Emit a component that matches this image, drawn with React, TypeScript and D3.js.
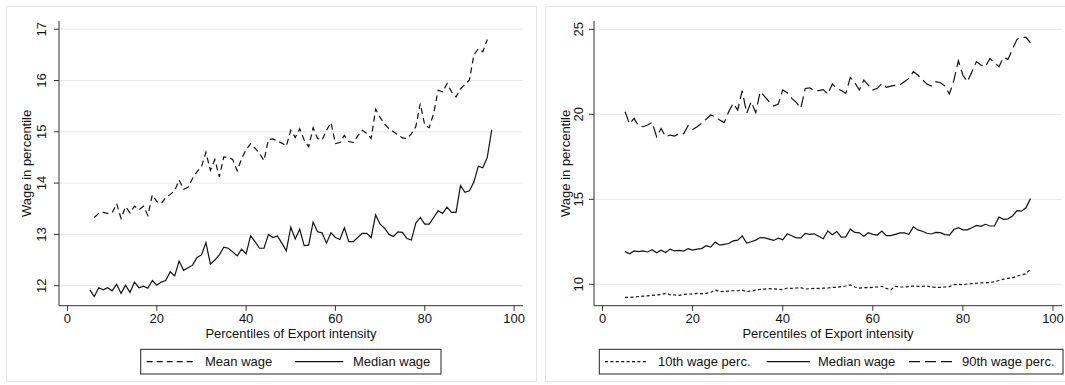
import React from "react";
import * as d3 from "d3";

const pctMedian = d3.range(5, 96);
const pctMean = d3.range(6, 95);

const meanWage = [13.33, 13.41, 13.43, 13.41, 13.42, 13.6, 13.31, 13.54, 13.42, 13.55, 13.48, 13.55, 13.37, 13.77, 13.64, 13.6, 13.72, 13.78, 13.85, 14.06, 13.88, 13.92, 14.09, 14.22, 14.32, 14.6, 14.25, 14.46, 14.12, 14.51, 14.5, 14.46, 14.24, 14.48, 14.65, 14.77, 14.68, 14.58, 14.44, 14.85, 14.86, 14.82, 14.78, 14.72, 15.03, 14.89, 15.06, 14.84, 14.71, 15.08, 14.87, 14.84, 15.03, 15.18, 14.77, 14.79, 14.93, 14.81, 14.79, 14.92, 15.03, 14.97, 14.87, 15.44, 15.28, 15.15, 15.06, 15.0, 14.94, 14.88, 14.87, 14.96, 15.1, 15.55, 15.13, 15.08, 15.36, 15.81, 15.78, 15.94, 15.78, 15.68, 15.84, 15.92, 16.01, 16.5, 16.62, 16.56, 16.8];

const medianWage = [11.92, 11.79, 11.96, 11.92, 11.96, 11.9, 12.03, 11.85, 12.01, 11.87, 12.07, 11.96, 11.99, 11.95, 12.1, 12.01, 12.07, 12.1, 12.27, 12.19, 12.48, 12.3, 12.35, 12.4, 12.55, 12.6, 12.84, 12.42, 12.5, 12.6, 12.75, 12.73, 12.66, 12.58, 12.71, 12.62, 12.97, 12.86, 12.73, 12.73, 13.0, 12.94, 12.97, 12.83, 12.68, 13.14, 12.91, 13.1, 12.78, 12.79, 13.24, 13.05, 13.03, 12.83, 13.03, 12.94, 12.9, 13.13, 12.86, 12.86, 12.94, 13.02, 13.02, 12.94, 13.38, 13.2, 13.12, 13.0, 12.96, 13.05, 13.04, 12.92, 12.89, 13.22, 13.33, 13.2, 13.2, 13.33, 13.46, 13.41, 13.53, 13.43, 13.43, 13.95, 13.82, 13.85, 14.02, 14.33, 14.3, 14.5, 15.04];

const p10Wage = [9.23, 9.23, 9.25, 9.28, 9.3, 9.32, 9.35, 9.37, 9.4, 9.47, 9.38, 9.37, 9.35, 9.4, 9.43, 9.42, 9.46, 9.45, 9.47, 9.52, 9.66, 9.57, 9.58, 9.6, 9.62, 9.62, 9.66, 9.57, 9.6, 9.66, 9.7, 9.72, 9.74, 9.73, 9.71, 9.68, 9.78, 9.76, 9.78, 9.8, 9.72, 9.74, 9.76, 9.76, 9.77, 9.78, 9.82, 9.82, 9.86, 9.9, 9.96, 9.84, 9.78, 9.8, 9.8, 9.82, 9.84, 9.88, 9.76, 9.68, 9.88, 9.84, 9.84, 9.86, 9.9, 9.88, 9.88, 9.9, 9.84, 9.82, 9.82, 9.84, 9.86, 9.98, 10.0, 9.97, 10.02, 10.04, 10.06, 10.08, 10.1, 10.1, 10.15, 10.22, 10.3, 10.35, 10.38, 10.48, 10.55, 10.62, 10.88];

const p90Wage = [20.15, 19.43, 19.76, 19.31, 19.27, 19.37, 19.53, 18.68, 19.17, 18.68, 18.78, 18.72, 18.88, 18.85, 19.33, 19.1, 19.27, 19.47, 19.71, 19.96, 19.86, 19.66, 19.51, 20.15, 20.65, 20.25, 21.39, 20.06, 20.74, 20.1, 21.33, 21.04, 20.74, 20.49, 20.6, 21.43, 21.27, 20.94, 20.7, 20.35, 21.52, 21.56, 21.4, 21.39, 21.45, 21.19, 21.78, 21.53, 21.4, 21.23, 22.17, 21.86, 21.43, 22.02, 21.72, 21.43, 21.53, 21.82, 21.59, 21.66, 21.7, 21.72, 21.92, 22.11, 22.51, 22.31, 22.05, 21.78, 21.66, 21.92, 21.86, 21.66, 21.19, 22.01, 23.15, 22.3, 21.92, 22.5, 23.1, 22.9, 22.8, 23.29, 23.04, 22.8, 23.35, 23.23, 23.82, 24.41, 24.53, 24.53, 24.21];

const xTicks = [0, 20, 40, 60, 80, 100];
const leftYTicks = [12, 13, 14, 15, 16, 17];
const rightYTicks = [10, 15, 20, 25];
const xTitle = "Percentiles of Export intensity";
const yTitle = "Wage in percentile";

const FONT = "'Liberation Sans', Arial, Helvetica, sans-serif";
const FS = 13;

type Series = { name: string; xs: number[]; ys: number[]; dash: string | null };

function Panel(props: {
  x0: number; x1: number; top: number; bottom: number;
  yDomain: [number, number]; yTicks: number[]; series: Series[];
  tickLabelX: number; titleX: number;
  border: [number, number, number, number];
  legend: { left: number; right: number; items: { s0: number; s1: number; t: number }[] };
}) {
  const { x0, x1, top, bottom, yDomain, yTicks, series, tickLabelX, titleX, border, legend } = props;
  const x = d3.scaleLinear().domain([-1.9, 102]).range([x0, x1]);
  const y = d3.scaleLinear().domain(yDomain).range([bottom, top]);
  const line = d3.line<[number, number]>().x((d) => x(d[0])).y((d) => y(d[1]));
  const ly = 361.7;
  return (
    <g>
      <rect x={border[0]} y={border[1]} width={border[2]} height={border[3]} fill="white" stroke="#e6e6e6" strokeWidth={1} />
      {yTicks.map((t) => (
        <line key={"g" + t} x1={x0} x2={x1} y1={y(t)} y2={y(t)} stroke="#e8e8e8" strokeWidth={1} />
      ))}
      {series.map((s) => (
        <path key={s.name} d={line(s.xs.map((v, i) => [v, s.ys[i]] as [number, number])) || ""}
          fill="none" stroke="#111" strokeWidth={1.2} strokeDasharray={s.dash || undefined} />
      ))}
      <line x1={x0} x2={x0} y1={top} y2={bottom} stroke="#333" strokeWidth={1} />
      <line x1={x0} x2={x1} y1={bottom} y2={bottom} stroke="#333" strokeWidth={1} />
      {yTicks.map((t) => (
        <g key={"yt" + t}>
          <line x1={x0 - 5} x2={x0} y1={y(t)} y2={y(t)} stroke="#333" />
          <text transform={`translate(${tickLabelX},${y(t)}) rotate(-90)`} textAnchor="middle"
            fontFamily={FONT} fontSize={FS} fill="#111">{t}</text>
        </g>
      ))}
      {xTicks.map((t) => (
        <g key={"xt" + t}>
          <line x1={x(t)} x2={x(t)} y1={bottom} y2={bottom + 5} stroke="#333" />
          <text x={x(t)} y={bottom + 17} textAnchor="middle" fontFamily={FONT} fontSize={FS} fill="#111">{t}</text>
        </g>
      ))}
      <text x={(x0 + x1) / 2} y={bottom + 32.5} textAnchor="middle" fontFamily={FONT} fontSize={FS} fill="#111">{xTitle}</text>
      <text transform={`translate(${titleX},${(top + bottom) / 2}) rotate(-90)`} textAnchor="middle"
        fontFamily={FONT} fontSize={FS} fill="#111">{yTitle}</text>
      <rect x={legend.left} y={349.3} width={legend.right - legend.left} height={24.7} fill="white" stroke="#222" strokeWidth={1} />
      {legend.items.map((it, i) => (
        <g key={"lg" + i}>
          <line x1={it.s0} x2={it.s1} y1={ly} y2={ly} stroke="#111" strokeWidth={1.2}
            strokeDasharray={series[i].dash || undefined} />
          <text x={it.t} y={ly + 4.6} fontFamily={FONT} fontSize={FS} fill="#111">{series[i].name}</text>
        </g>
      ))}
    </g>
  );
}

export default function App() {
  const leftSeries: Series[] = [
    { name: "Mean wage", xs: pctMean, ys: meanWage, dash: "6,4" },
    { name: "Median wage", xs: pctMedian, ys: medianWage, dash: null },
  ];
  const rightSeries: Series[] = [
    { name: "10th wage perc.", xs: pctMedian, ys: p10Wage, dash: "3,2.4" },
    { name: "Median wage", xs: pctMedian, ys: medianWage, dash: null },
    { name: "90th wage perc.", xs: pctMedian, ys: p90Wage, dash: "11,5" },
  ];
  return (
    <svg width={1065} height={385} style={{ position: "absolute", left: 0, top: 0, background: "white" }}>
      <rect x={0} y={0} width={1065} height={385} fill="white" />
      <Panel x0={59} x1={523} top={21} bottom={305.7} yDomain={[11.61, 17.16]} yTicks={leftYTicks}
        series={leftSeries} tickLabelX={46} titleX={30.5} border={[6.5, 6.5, 530, 375]}
        legend={{ left: 140.7, right: 441, items: [{ s0: 146.7, s1: 196.7, t: 205 }, { s0: 295, s1: 343.3, t: 353 }] }} />
      <Panel x0={594} x1={1062} top={21} bottom={305.7} yDomain={[8.74, 25.49]} yTicks={rightYTicks}
        series={rightSeries} tickLabelX={583} titleX={570} border={[545.5, 6.5, 530, 375]}
        legend={{ left: 599.3, right: 1063, items: [{ s0: 605, s1: 648, t: 658 }, { s0: 766.7, s1: 810, t: 818 }, { s0: 909, s1: 953, t: 962 }] }} />
    </svg>
  );
}
